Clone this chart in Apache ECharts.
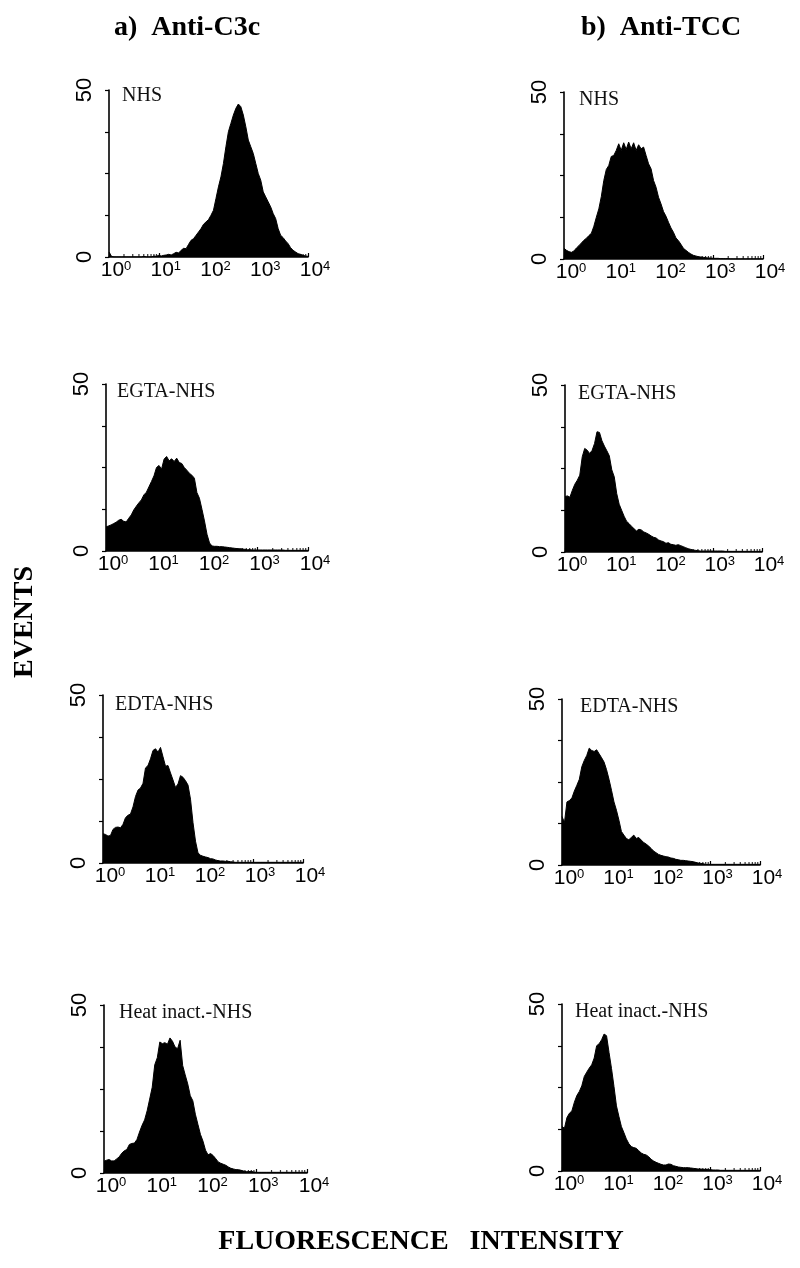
<!DOCTYPE html>
<html><head><meta charset="utf-8">
<script src="https://cdn.jsdelivr.net/npm/echarts@6/dist/echarts.min.js"></script>
<style>html,body{margin:0;padding:0;background:#fff}#c{width:800px;height:1268px}</style>
</head><body><div id="c"></div>
<script>
// ---- text ----
const columnTitles = ['a)  Anti-C3c', 'b)  Anti-TCC'];
const panelLabels = ['NHS', 'NHS', 'EGTA-NHS', 'EGTA-NHS', 'EDTA-NHS', 'EDTA-NHS', 'Heat inact.-NHS', 'Heat inact.-NHS'];
const yAxisTitle = 'EVENTS';
const xAxisTitle = 'FLUORESCENCE   INTENSITY';
const xTickExponents = ['0', '1', '2', '3', '4'];
const yTickLabels = [0, 50];
const minorTickValues = [2,3,4,5,6,7,8,9, 20,30,40,50,60,70,80,90, 200,300,400,500,600,700,800,900, 2000,3000,4000,5000,6000,7000,8000,9000];

// ---- data: events per log channel (20 channels per decade, 10^0 .. 10^4) ----
const c3cNHS = [1.5,0.2,0,0,0,0,0,0,0,0,0,0,0,0,0.2,0,0,0,0.3,0.2,
  0.5,0.3,0.5,0.6,0.8,0.6,1.0,1.4,1.2,2.0,2.6,2.5,3.8,5.0,5.5,6.5,7.5,8.5,9.8,10.5,
  11.2,12.5,14,17.5,21,24,28,33,37.5,40,42.5,44.5,45.8,45,42.5,39,35,33,31,28,
  25,23,19.5,18,16.5,15,13,11.5,8.5,6.5,5.8,4.8,4,2.8,2,1.5,1.0,0.8,0.5,0.3,0.2];
const tccNHS = [3.2,2.6,2.2,2.0,2.4,3.3,4.0,4.8,5.6,6.2,7.0,7.7,9.8,12.5,15,18.7,23.5,26.8,28,30.7,
  31,32.5,34.5,32.5,34.8,32.8,35,33,34.8,32.5,34.2,33,33.5,31,28.5,27,23.5,21.5,18.5,16.5,
  14.2,12.8,11,9.3,8,6.3,5.5,4.4,3.2,2.6,2.0,1.5,1.1,0.9,0.7,0.6,0.5,0.4,0.3,0.3,
  0.2,0.2,0.2,0.1,0.1,0.1,0.1,0,0,0,0,0,0,0,0,0,0,0,0,0,0];
const c3cEGTA = [7.2,7.5,7.8,8.2,8.6,9.2,9.5,8.9,8.7,9.8,10.8,12.3,13.4,14.4,15.3,16.8,17.6,19.2,20.8,22.5,
  25,25.6,24.5,27.5,28.3,27,27.6,26.8,27.8,26.5,26.2,25,24.2,23.3,22.7,21.8,17.5,15.8,12.5,9,
  5,2.4,1.5,1.4,1.4,1.3,1.3,1.2,1.1,1.0,0.9,0.8,0.7,0.7,0.6,0.5,0.4,0.4,0.3,0.3,
  0.3,0.3,0.3,0.3,0.3,0.3,0.3,0.3,0.3,0.3,0.3,0.2,0.2,0.2,0.2,0.2,0.2,0.2,0.2,0.2,0.2];
const tccEGTA = [16.6,16.8,16.4,18.5,20.3,21.5,23,28.5,31,30.5,29.5,30.4,32.5,36,35.8,33.3,31.7,30.3,28.8,24.6,
  22.5,17.5,14.3,12.5,10.7,9.2,8.5,7.7,7,6.3,6.8,6.6,6.0,5.7,5.3,4.8,4.4,4.2,3.6,3.3,
  3.1,2.6,2.8,2.3,2.2,2.0,2.2,1.9,1.6,1.3,1.0,0.8,0.6,0.5,0.4,0.3,0.3,0.3,0.3,0.3,
  0.3,0.3,0.3,0.3,0.3,0.2,0.2,0.2,0.2,0.2,0.2,0.2,0.2,0.2,0.2,0.2,0.2,0.2,0.2,0.2,0.2];
const c3cEDTA = [8.7,8.5,8.0,8.2,10,10.6,10.7,10.5,11.5,13.5,14.2,14.6,16.7,19.8,21.7,22.3,23.7,28.3,29,31,
  33.5,34,33,34.4,31.6,28.8,29,26.8,24.7,22.5,23.5,26,25.5,24.5,23.2,19,12,6.5,3,2.3,
  2.0,1.8,1.6,1.3,1.2,0.9,0.7,0.6,0.6,0.5,0.5,0.4,0.3,0.2,0.2,0.2,0.2,0.2,0.2,0.2,
  0.2,0.2,0.2,0.2,0.2,0.2,0.2,0.2,0.2,0.2,0.2,0.2,0.2,0.2,0.2,0.2,0.2,0.2,0.2,0.2,0.2];
const tccEDTA = [14.6,12.8,19,19.4,20.2,22.3,24,25.8,29.6,31.5,33,35.2,34.5,34.2,34.7,33.5,32.3,31,28.7,25.8,
  22.5,19,16.5,13.5,10.1,9,8,7.6,8.3,9,8,8.3,7.5,6.8,6.3,5.7,5.0,4.2,3.7,3.2,
  2.9,2.7,2.5,2.4,2.1,2.0,1.7,1.6,1.4,1.4,1.3,1.2,1.1,1.0,0.8,0.6,0.5,0.4,0.2,0.2,
  0.2,0.2,0.2,0.2,0.2,0.2,0.2,0.2,0.2,0.2,0.2,0.2,0.2,0.2,0.2,0.2,0.2,0.2,0.2,0.2,0.2];
const c3cHeat = [3.5,3.8,4,3.6,3.6,4.2,4.8,5.9,6.6,7.0,8.5,8.8,8.9,10,12.2,14.2,15.8,18.5,22,25.5,
  32.2,34.3,39,38.5,38.8,38.3,40.2,39.2,37.5,37,39.5,32,29.2,26.5,23,21.5,17.5,14.5,11.5,9.5,
  6.8,5.4,5.8,5.2,4.3,3.3,2.9,2.6,2.3,1.8,1.4,1.2,1.0,1.0,0.8,0.6,0.4,0.4,0.5,0.3,
  0.2,0.2,0.2,0.2,0.2,0.2,0.2,0.2,0.2,0.2,0.2,0.2,0.2,0.2,0.2,0.2,0.2,0.2,0.2,0.2,0.2];
const tccHeat = [13.3,12.8,16,17.3,18,20.6,22.6,23.8,25.5,28.3,29.6,30.8,31.8,33.8,37.5,38.1,39.3,41,40.5,35.5,
  30.7,25.3,19.5,16.3,13.3,11.5,9.6,8.2,7.3,7.0,6.8,6.1,5.4,5.0,4.8,4.3,3.5,3.0,2.6,2.3,
  2.0,1.8,1.8,2.1,2.0,1.6,1.4,1.2,1.1,1.0,1.0,1.0,0.9,0.8,0.7,0.6,0.6,0.5,0.5,0.4,
  0.4,0.3,0.3,0.3,0.2,0.2,0.2,0.2,0.2,0.2,0.2,0.2,0.2,0.2,0.2,0.2,0.2,0.2,0.2,0.2,0.2];

const panelData = [c3cNHS, tccNHS, c3cEGTA, tccEGTA, c3cEDTA, tccEDTA, c3cHeat, tccHeat];
const channelsPerDecade = 20;

// ---- layout (pixels) ----
const layout = [
  {left:109, top:90,   width:199, height:167, lx:122, ly:96},
  {left:564, top:92,   width:199, height:167, lx:579, ly:99.5},
  {left:106, top:384,  width:202, height:167, lx:117, ly:391.5},
  {left:565, top:385,  width:197, height:167, lx:578, ly:393.5},
  {left:103, top:695,  width:200, height:168, lx:115, ly:704.5},
  {left:562, top:699,  width:198, height:166, lx:580, ly:706.5},
  {left:104, top:1005, width:203, height:168, lx:119, ly:1012.5},
  {left:562, top:1004, width:198, height:167, lx:575, ly:1011.5}
];

const SANS_NARROW = "'Liberation Sans Narrow', 'Liberation Sans', Arial, sans-serif";
const SANS = "'Liberation Sans', Arial, sans-serif";
const SERIF = "'Liberation Serif', 'Times New Roman', serif";

const grids = [], xAxes = [], yAxes = [], series = [], graphics = [];
layout.forEach((g, i) => {
  grids.push({left: g.left, top: g.top, width: g.width, height: g.height});
  xAxes.push({
    gridIndex: i, type: 'log', logBase: 10, min: 1, max: 10000,
    axisLine: {show: true, lineStyle: {color: '#000', width: 1.6}},
    axisTick: {show: true, inside: true, length: 4, lineStyle: {color: '#000', width: 1.2}},
    splitLine: {show: false},
    axisLabel: {
      margin: 3, color: '#000',
      formatter: v => {
        const e = Math.round(Math.log10(v));
        const s = xTickExponents[e];
        return s === undefined ? '' : '{p| }{b|10}{s|' + s + '}';
      },
      rich: {
        p: {width: 14, fontSize: 10},
        b: {fontSize: 21, fontFamily: SANS_NARROW, color: '#000'},
        s: {fontSize: 13, fontFamily: SANS_NARROW, color: '#000', verticalAlign: 'top'}
      }
    }
  });
  yAxes.push({
    gridIndex: i, type: 'value', min: 0, max: 50, interval: 12.5,
    axisLine: {show: true, lineStyle: {color: '#000', width: 1.6}},
    axisTick: {show: true, inside: false, length: 4, lineStyle: {color: '#000', width: 1.2}},
    splitLine: {show: false},
    axisLabel: {
      rotate: 90, margin: 13, color: '#000', fontSize: 22, fontFamily: SANS,
      formatter: v => (yTickLabels.indexOf(v) >= 0 ? String(v) : '')
    }
  });
  const vals = panelData[i];
  series.push({
    type: 'line', xAxisIndex: i, yAxisIndex: i,
    data: vals.map((v, j) => [Math.pow(10, j / channelsPerDecade), v]),
    symbol: 'none', smooth: false,
    lineStyle: {color: '#000', width: 1},
    areaStyle: {color: '#000', opacity: 1},
    silent: true
  });
  series.push({
    type: 'scatter', xAxisIndex: i, yAxisIndex: i,
    data: minorTickValues.map(v => [v, 0]),
    symbol: 'rect', symbolSize: [1.2, 3], symbolOffset: [0, -1.5],
    itemStyle: {color: '#000'}, clip: false, silent: true, z: 5
  });
  graphics.push({
    type: 'text', x: g.lx, y: g.ly,
    style: {text: panelLabels[i], font: '20px ' + SERIF, fill: '#111', textVerticalAlign: 'middle', verticalAlign: 'middle'}
  });
});

graphics.push({type: 'text', x: 187, y: 28, style: {text: columnTitles[0], font: 'bold 28px ' + SERIF, fill: '#000', align: 'center', textAlign: 'center', verticalAlign: 'middle', textVerticalAlign: 'middle'}});
graphics.push({type: 'text', x: 661, y: 28, style: {text: columnTitles[1], font: 'bold 28px ' + SERIF, fill: '#000', align: 'center', textAlign: 'center', verticalAlign: 'middle', textVerticalAlign: 'middle'}});
graphics.push({type: 'text', x: 25, y: 622, rotation: Math.PI / 2, style: {text: yAxisTitle, font: 'bold 28px ' + SERIF, fill: '#000', align: 'center', textAlign: 'center', verticalAlign: 'middle', textVerticalAlign: 'middle'}});
graphics.push({type: 'text', x: 421, y: 1242, style: {text: xAxisTitle, font: 'bold 28px ' + SERIF, fill: '#000', align: 'center', textAlign: 'center', verticalAlign: 'middle', textVerticalAlign: 'middle'}});

const chart = echarts.init(document.getElementById('c'), null, {renderer: 'canvas'});
chart.setOption({
  backgroundColor: '#fff',
  animation: false,
  grid: grids, xAxis: xAxes, yAxis: yAxes, series: series,
  graphic: graphics
});
</script></body></html>
